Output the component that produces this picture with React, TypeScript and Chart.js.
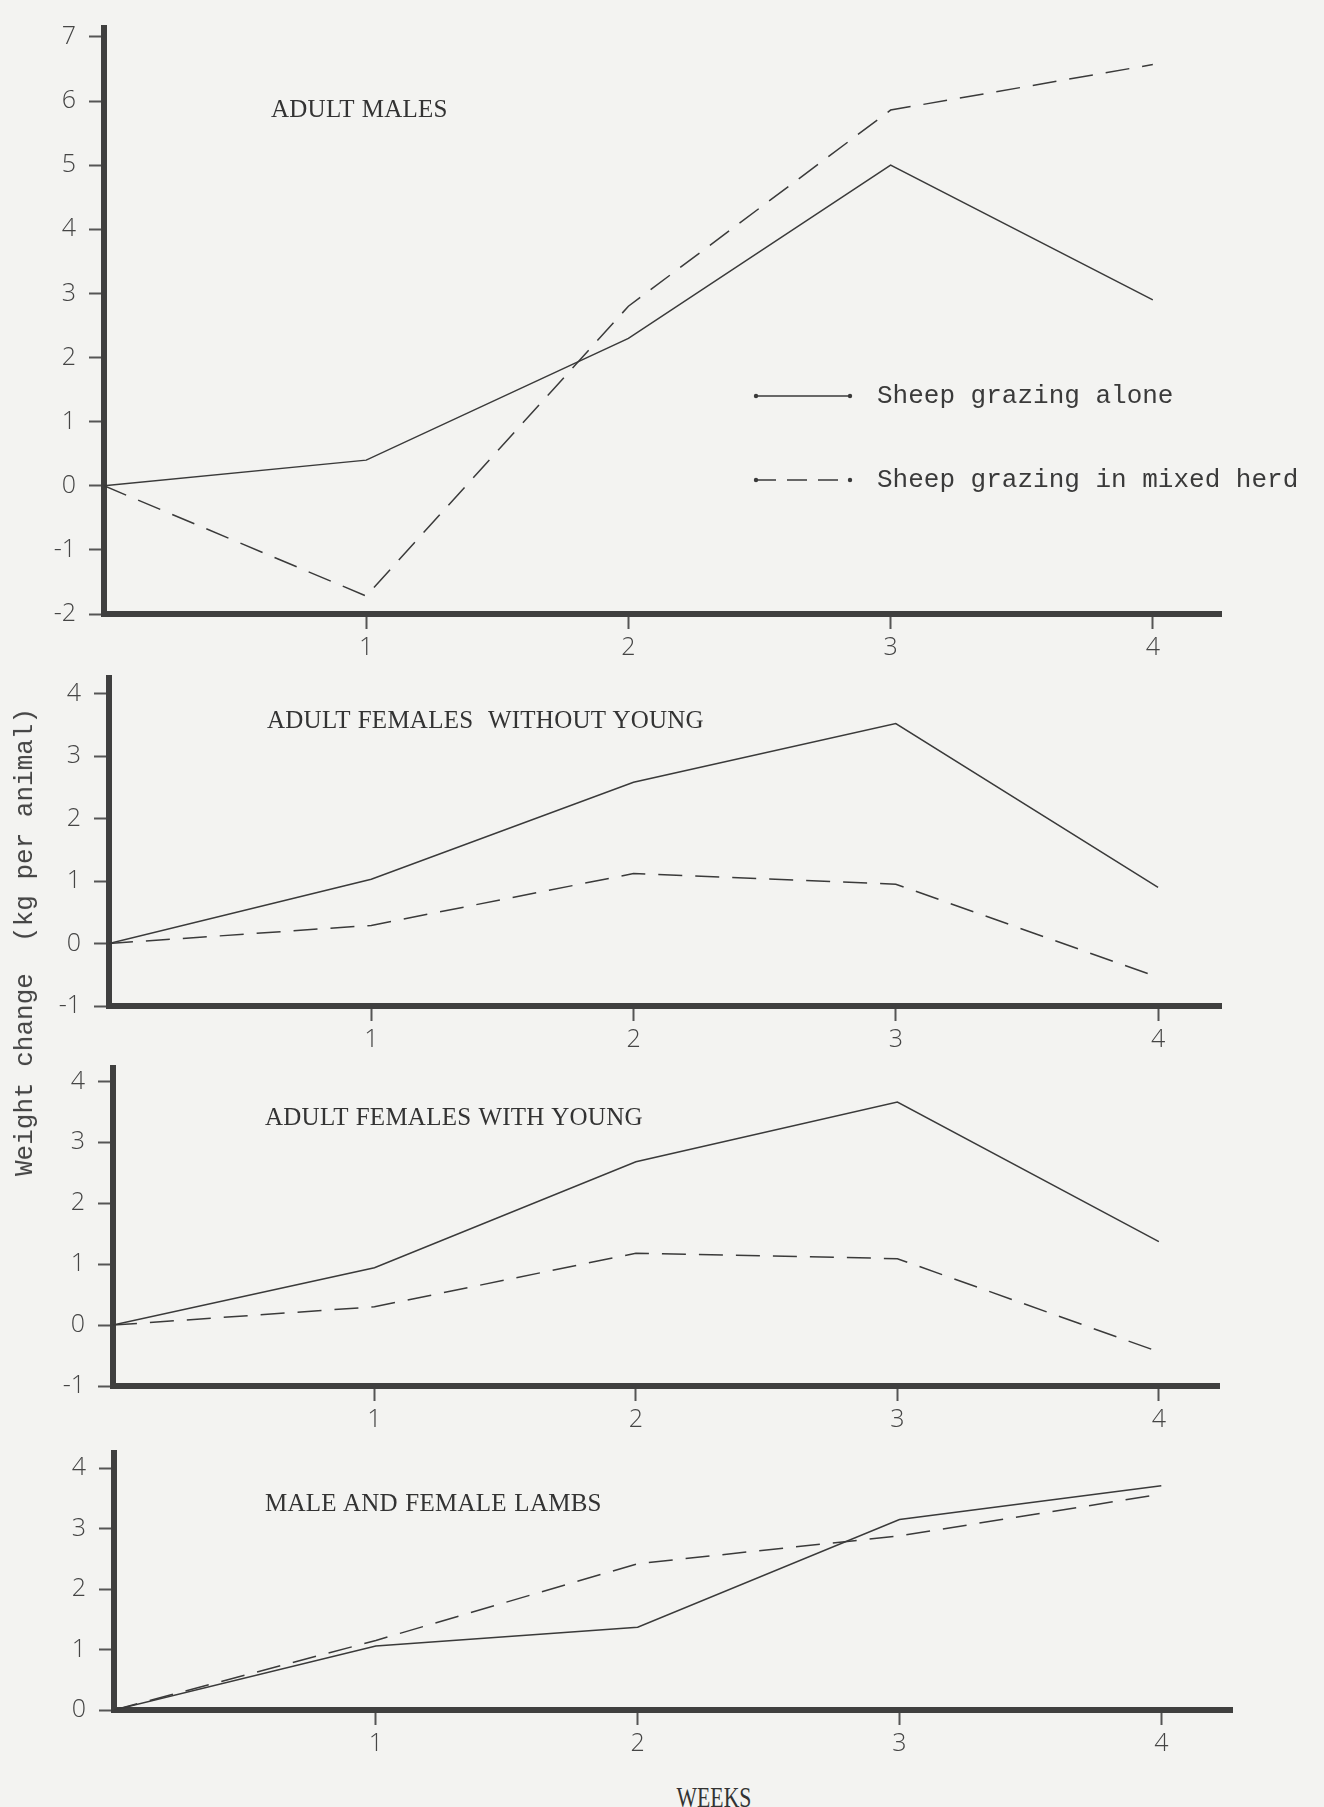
import React, { useEffect, useRef } from "react";
import { Chart, registerables } from "chart.js";

Chart.register(...registerables);

// ---- data ----
const WEEKS = [0, 1, 2, 3, 4];
const SERIES_LABELS = ["Sheep grazing alone", "Sheep grazing in mixed herd"];

const MALES_ALONE = [0, 0.4, 2.3, 5.0, 2.9];
const MALES_MIXED = [0, -1.72, 2.8, 5.86, 6.57];

const FEMALES_NO_YOUNG_ALONE = [0, 1.03, 2.58, 3.52, 0.9];
const FEMALES_NO_YOUNG_MIXED = [0, 0.29, 1.12, 0.95, -0.54];

const FEMALES_YOUNG_ALONE = [0, 0.94, 2.68, 3.66, 1.37];
const FEMALES_YOUNG_MIXED = [0, 0.3, 1.18, 1.09, -0.44];

const LAMBS_ALONE = [0, 1.06, 1.37, 3.15, 3.71];
const LAMBS_MIXED = [0, 1.15, 2.42, 2.88, 3.57];

const X_TICKS = [1, 2, 3, 4];
const Y_TICKS_MALES = [-2, -1, 0, 1, 2, 3, 4, 5, 6, 7];
const Y_TICKS_FEMALES = [-1, 0, 1, 2, 3, 4];
const Y_TICKS_LAMBS = [0, 1, 2, 3, 4];

const PANEL_TITLES = [
  "ADULT MALES",
  "ADULT FEMALES  WITHOUT YOUNG",
  "ADULT FEMALES WITH YOUNG",
  "MALE AND FEMALE LAMBS",
];
const Y_TITLE = "Weight change  (kg per animal)";
const X_TITLE = "WEEKS";

// ---- styling ----
const PAGE_W = 1324;
const PAGE_H = 1807;
const PAPER = "#f3f3f1";
const INK = "#3a3a3a";
const AXIS_INK = "#3f3f3f";
const TICK_INK = "#454545";
const TYPE_FONT = "'Liberation Mono', 'DejaVu Sans Mono', monospace";
const TITLE_FONT = "'Liberation Serif', 'DejaVu Serif', serif";
const TICK_FONT = "'Open Sans', 'DejaVu Sans', sans-serif";

type Frame = {
  top: number;
  height: number;
  chartTop: number;
  chartBottom: number;
  left: number;
  right: number;
};

type PanelProps = {
  frame: Frame;
  alone: number[];
  mixed: number[];
  yTicks: number[];
  yMax: number;
  xMax: number;
  withLegend?: boolean;
};

// Legend drawn inside the first panel: a short sample line with end dots, then the label
const sheepLegend = {
  id: "sheepLegend",
  afterDatasetsDraw(chart: any, _args: any, opts: any) {
    if (!opts || !opts.show) return;
    const ctx = chart.ctx;
    ctx.save();
    chart.data.datasets.forEach((ds: any, i: number) => {
      const y = opts.y0 + i * opts.dy;
      ctx.strokeStyle = ds.borderColor;
      ctx.lineWidth = 1.6;
      ctx.setLineDash(ds.borderDash && ds.borderDash.length ? [20, 11] : []);
      ctx.beginPath();
      ctx.moveTo(opts.x1, y);
      ctx.lineTo(opts.x2, y);
      ctx.stroke();
      ctx.setLineDash([]);
      ctx.fillStyle = ds.borderColor;
      [opts.x1, opts.x2].forEach((x: number) => {
        ctx.beginPath();
        ctx.arc(x, y, 2.2, 0, Math.PI * 2);
        ctx.fill();
      });
      ctx.fillStyle = "#3a3a3a";
      ctx.font = `26px ${TYPE_FONT}`;
      ctx.textBaseline = "middle";
      ctx.textAlign = "left";
      ctx.fillText(ds.label, opts.textX, y);
    });
    ctx.restore();
  },
};

function Panel({ frame, alone, mixed, yTicks, yMax, xMax, withLegend }: PanelProps) {
  const ref = useRef<HTMLCanvasElement | null>(null);

  useEffect(() => {
    if (!ref.current) return;
    const tickFont = { family: TICK_FONT, size: 25, weight: "300" as any };
    const grid = {
      display: true,
      drawOnChartArea: false,
      drawTicks: true,
      tickLength: 15,
      tickWidth: 2,
      tickColor: "#555",
      color: "#555",
    };
    const border = { display: true, width: 6, color: AXIS_INK };

    const chart = new Chart(ref.current, {
      type: "line",
      data: {
        datasets: [
          {
            label: SERIES_LABELS[0],
            data: WEEKS.map((x, i) => ({ x, y: alone[i] })),
            borderColor: INK,
            borderWidth: 1.5,
            pointRadius: 0,
            tension: 0,
            fill: false,
          },
          {
            label: SERIES_LABELS[1],
            data: WEEKS.map((x, i) => ({ x, y: mixed[i] })),
            borderColor: INK,
            borderWidth: 1.5,
            borderDash: [24, 13],
            pointRadius: 0,
            tension: 0,
            fill: false,
          },
        ],
      },
      options: {
        responsive: false,
        animation: false,
        devicePixelRatio: 1,
        layout: {
          padding: {
            top: frame.chartTop - frame.top,
            left: 0,
            right: PAGE_W - frame.right,
            bottom: 0,
          },
        },
        plugins: {
          legend: { display: false },
          tooltip: { enabled: false },
          title: { display: false },
          sheepLegend: {
            show: !!withLegend,
            x1: 756,
            x2: 850,
            textX: 877,
            y0: 396,
            dy: 84,
          },
        } as any,
        scales: {
          x: {
            type: "linear",
            min: 0,
            max: xMax,
            afterBuildTicks: (axis: any) => {
              axis.ticks = X_TICKS.map((v) => ({ value: v }));
            },
            afterFit: (scale: any) => {
              scale.height = frame.height - (frame.chartBottom - frame.top);
            },
            grid,
            border,
            ticks: {
              font: tickFont,
              color: TICK_INK,
              padding: 4,
              maxRotation: 0,
              autoSkip: false,
            },
          },
          y: {
            type: "linear",
            min: yTicks[0],
            max: yMax,
            afterBuildTicks: (axis: any) => {
              axis.ticks = yTicks.map((v) => ({ value: v }));
            },
            afterFit: (scale: any) => {
              scale.width = frame.left;
            },
            grid,
            border,
            ticks: {
              font: tickFont,
              color: TICK_INK,
              padding: 13,
              autoSkip: false,
            },
          },
        },
      } as any,
      plugins: [sheepLegend],
    });
    return () => chart.destroy();
  }, []);

  return (
    <canvas
      ref={ref}
      width={PAGE_W}
      height={frame.height}
      style={{
        position: "absolute",
        left: 0,
        top: frame.top,
        width: PAGE_W,
        height: frame.height,
      }}
    />
  );
}

const FRAMES: Frame[] = [
  { top: 0, height: 680, chartTop: 19, chartBottom: 614, left: 104, right: 1221 },
  { top: 650, height: 420, chartTop: 668, chartBottom: 1006, left: 109, right: 1221 },
  { top: 1040, height: 420, chartTop: 1055, chartBottom: 1386, left: 113, right: 1219 },
  { top: 1425, height: 355, chartTop: 1440, chartBottom: 1710, left: 114, right: 1232 },
];

const TITLE_POS = [
  { x: 271, y: 109 },
  { x: 267, y: 720 },
  { x: 265, y: 1117 },
  { x: 265, y: 1503 },
];

export default function App() {
  return (
    <div
      style={{
        position: "absolute",
        left: 0,
        top: 0,
        width: PAGE_W,
        height: PAGE_H,
        background: PAPER,
        overflow: "hidden",
      }}
    >
      <Panel frame={FRAMES[0]} alone={MALES_ALONE} mixed={MALES_MIXED} yTicks={Y_TICKS_MALES} yMax={7.14} xMax={4.26} withLegend />
      <Panel frame={FRAMES[1]} alone={FEMALES_NO_YOUNG_ALONE} mixed={FEMALES_NO_YOUNG_MIXED} yTicks={Y_TICKS_FEMALES} yMax={4.25} xMax={4.24} />
      <Panel frame={FRAMES[2]} alone={FEMALES_YOUNG_ALONE} mixed={FEMALES_YOUNG_MIXED} yTicks={Y_TICKS_FEMALES} yMax={4.22} xMax={4.23} />
      <Panel frame={FRAMES[3]} alone={LAMBS_ALONE} mixed={LAMBS_MIXED} yTicks={Y_TICKS_LAMBS} yMax={4.25} xMax={4.27} />

      {PANEL_TITLES.map((t, i) => (
        <div
          key={t}
          style={{
            position: "absolute",
            left: TITLE_POS[i].x,
            top: TITLE_POS[i].y - 13,
            font: `25px ${TITLE_FONT}`,
            letterSpacing: "0.25px",
            wordSpacing: "1px",
            lineHeight: "26px",
            color: "#333",
            whiteSpace: "pre",
          }}
        >
          {t}
        </div>
      ))}

      <div
        style={{
          position: "absolute",
          left: 25,
          top: 942,
          transform: "translate(-50%, -50%) rotate(-90deg)",
          font: `26px ${TYPE_FONT}`,
          lineHeight: "28px",
          color: "#444",
          whiteSpace: "pre",
        }}
      >
        {Y_TITLE}
      </div>

      <div
        style={{
          position: "absolute",
          left: 714,
          top: 1797,
          transform: "translate(-50%, -50%) scaleX(0.75)",
          font: `29px ${TITLE_FONT}`,
          lineHeight: "30px",
          color: "#333",
          whiteSpace: "pre",
        }}
      >
        {X_TITLE}
      </div>
    </div>
  );
}
